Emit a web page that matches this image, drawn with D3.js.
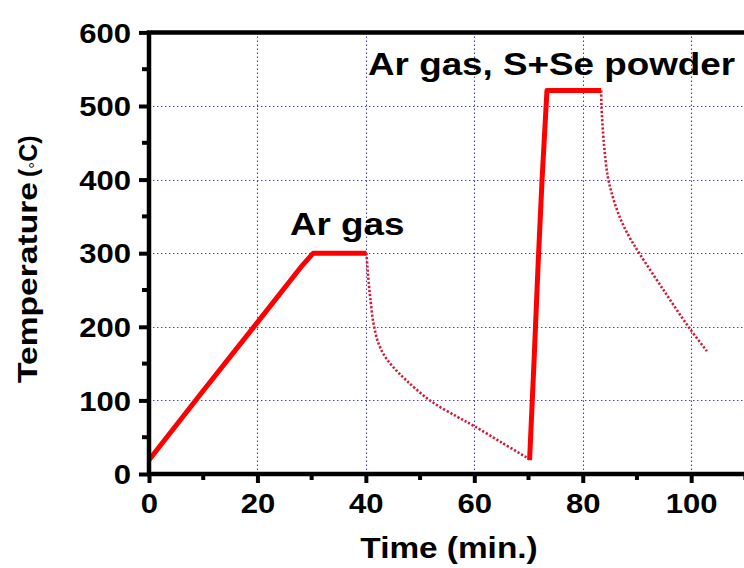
<!DOCTYPE html>
<html>
<head>
<meta charset="utf-8">
<script src="https://cdn.jsdelivr.net/npm/d3@7"></script>
<style>
  body { margin: 0; background: #fff; }
  svg { display: block; }
  text { font-family: "Liberation Sans", Arial, sans-serif; font-weight: bold; fill: #000; }
</style>
</head>
<body>
<div id="graph"></div>
<script>
// Temperature profile data (time in min, temperature in C)
const heat1 = [[0,19],[10,113],[20,206],[28,281],[30.3,300],[40.1,300]];
const cool1 = [[40.1,300],[40.3,280],[40.5,262],[40.8,240],[41.4,205],[42.3,178],[43.5,160],[45.2,144],[47.5,127],[51.8,100],[56.8,78],[60,65],[65,43],[70.2,20]];
const heat2 = [[70.2,19],[71.0,150],[71.8,290],[72.5,400],[73.4,521],[83.4,521]];
const cool2 = [[83.4,521],[83.45,501],[83.9,450],[84.6,405],[85.6,375],[87.0,346],[88.6,322],[90.6,298],[94.9,250],[99.5,200],[102.9,167]];

const xTicks = [0, 20, 40, 60, 80, 100];
const yTicks = [0, 100, 200, 300, 400, 500, 600];
const xGrid = [20, 40, 60, 80, 100, 120];
const yGrid = [100, 200, 300, 400, 500];
const xMinor = [10, 30, 50, 70, 90, 110];
const yMinor = [50, 150, 250, 350, 450, 550];

const labels = [
  { text: "Ar gas", t: 26.0, v: 325 },
  { text: "Ar gas, S+Se powder", t: 40.4, v: 542 }
];

const width = 744,
      height = 568;

const svg = d3.select('#graph').append('svg')
    .attr("width", width)
    .attr("height", height);

const x = d3.scaleLinear().domain([0, 120]).range([149, 799.6]);
const y = d3.scaleLinear().domain([0, 600]).range([474, 32.4]);

const stretch = 1.15;
function widen(sel) {
  sel.each(function () {
    const w = this.getComputedTextLength();
    d3.select(this).attr("textLength", w * stretch).attr("lengthAdjust", "spacingAndGlyphs");
  });
}

// dotted grid
const grid = svg.append("g").attr("stroke", "#3c3cb4").attr("stroke-width", 1.1).attr("stroke-dasharray", "1.4,2.6");
grid.selectAll(".gx").data(xGrid)
  .enter().append("line")
    .attr("x1", d => Math.round(x(d)) + 0.5).attr("x2", d => Math.round(x(d)) + 0.5)
    .attr("y1", y(0)).attr("y2", y(600));
grid.selectAll(".gy").data(yGrid)
  .enter().append("line")
    .attr("x1", x(0)).attr("x2", x(120))
    .attr("y1", d => Math.round(y(d)) + 0.5).attr("y2", d => Math.round(y(d)) + 0.5);

// data lines
const line = d3.line().x(d => x(d[0])).y(d => y(d[1]));
const smooth = d3.line().x(d => x(d[0])).y(d => y(d[1])).curve(d3.curveCatmullRom.alpha(0.5));

[cool1, cool2].forEach(function (data) {
  svg.append("path").datum(data)
    .attr("d", smooth)
    .attr("fill", "none")
    .attr("stroke", "#d41b35")
    .attr("stroke-width", 2.6)
    .attr("stroke-dasharray", "2.2,1.9");
});
[heat1, heat2].forEach(function (data) {
  svg.append("path").datum(data)
    .attr("d", line)
    .attr("fill", "none")
    .attr("stroke", "#ff0000")
    .attr("stroke-width", 5)
    .attr("stroke-linejoin", "round");
});

// axes
const xAxis = svg.append("g").attr("transform", "translate(0," + y(0) + ")")
  .call(d3.axisBottom(x).tickValues(xTicks).tickSize(9).tickPadding(8));
const yAxis = svg.append("g").attr("transform", "translate(" + x(0) + ",0)")
  .call(d3.axisLeft(y).tickValues(yTicks).tickSize(10).tickPadding(9));

[xAxis, yAxis].forEach(function (ax) {
  ax.select(".domain").remove();
  ax.selectAll(".tick line").attr("stroke-width", 4);
  ax.selectAll(".tick text").style("font-size", "27px");
});
xAxis.selectAll(".tick text").attr("dy", null).attr("y", 39);
yAxis.selectAll(".tick text").attr("dy", "0.36em").attr("x", -18);

svg.append("g").selectAll("line").data(xMinor)
  .enter().append("line")
    .attr("x1", d => x(d)).attr("x2", d => x(d))
    .attr("y1", y(0)).attr("y2", y(0) + 6)
    .attr("stroke", "#000").attr("stroke-width", 4);
svg.append("g").selectAll("line").data(yMinor)
  .enter().append("line")
    .attr("x1", x(0) - 7).attr("x2", x(0))
    .attr("y1", d => y(d)).attr("y2", d => y(d))
    .attr("stroke", "#000").attr("stroke-width", 4);

// frame: left, bottom and top
svg.append("path")
  .attr("d", "M" + x(120) + "," + y(600) + "H" + x(0) + "V" + y(0) + "H" + x(120))
  .attr("fill", "none")
  .attr("stroke", "#000")
  .attr("stroke-width", 4.5);

widen(svg.selectAll(".tick text"));

// annotations
svg.selectAll(".note").data(labels)
  .enter().append("text")
    .attr("class", "note")
    .attr("x", d => x(d.t))
    .attr("y", d => y(d.v))
    .style("font-size", "32px")
    .text(d => d.text)
    .call(widen);

// axis titles
svg.append("text")
  .attr("x", 449).attr("y", 558)
  .attr("text-anchor", "middle")
  .style("font-size", "29px")
  .text("Time (min.)")
  .call(widen);

svg.append("text")
  .attr("transform", "translate(37,383) rotate(-90)")
  .style("font-size", "27px")
  .attr("textLength", 201).attr("lengthAdjust", "spacingAndGlyphs")
  .text("Temperature");

const unit = svg.append("text")
  .attr("transform", "translate(37,177) rotate(-90)")
  .style("font-size", "25px");
unit.append("tspan").text("(");
unit.append("tspan").attr("dy", 4).style("font-size", "17px").style("font-weight", "normal").text("\u00b0");
unit.append("tspan").attr("dy", -4).text("C)");
</script>
</body>
</html>
